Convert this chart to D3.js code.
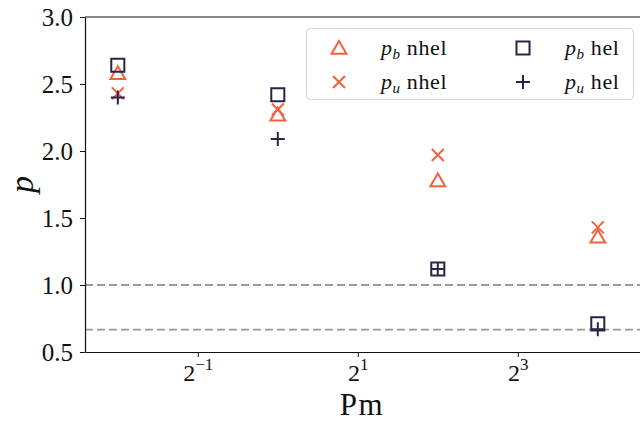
<!DOCTYPE html>
<html>
<head>
<meta charset="utf-8">
<script src="https://cdn.jsdelivr.net/npm/d3@7"></script>
<style>
  body { margin: 0; background: #fff; }
  svg text { font-family: "Liberation Serif", "DejaVu Serif", serif; fill: #111; }
</style>
</head>
<body>
<svg id="chart" width="640" height="422"></svg>
<script>
const svg = d3.select('#chart');

// data
const pm = [0.25, 1, 4, 16];
const pbNhel = [2.58, 2.27, 1.78, 1.36];
const puNhel = [2.43, 2.31, 1.97, 1.43];
const pbHel = [2.64, 2.42, 1.12, 0.71];
const puHel = [2.40, 2.09, 1.12, 0.67];
const refLines = [1.0, 2 / 3];
const yTicks = [0.5, 1.0, 1.5, 2.0, 2.5, 3.0];
const xTickExp = [-1, 1, 3];

const orange = '#f2613f';
const navy = '#2d2246';
const serif = '"Liberation Serif", "DejaVu Serif", serif';

const plotL = 85, plotT = 17, plotB = 352, plotR = 641;

const x = d3.scaleLog().base(2)
    .domain([Math.pow(2, -2.41), Math.pow(2, 4.54)])
    .range([plotL, plotR]);
const y = d3.scaleLinear().domain([0.5, 3.0]).range([plotB, plotT]);

// reference lines
svg.selectAll('.ref')
    .data(refLines)
    .enter()
    .append('line')
    .attr('x1', plotL).attr('x2', 640)
    .attr('y1', d => y(d)).attr('y2', d => y(d))
    .attr('stroke', '#9a9a9a')
    .attr('stroke-width', 1.8)
    .attr('stroke-dasharray', '8,4');

// axes
const yAxis = svg.append('g')
    .attr('transform', `translate(${plotL},0)`)
    .call(d3.axisLeft(y).tickValues(yTicks).tickFormat(d3.format('.1f')).tickSize(5).tickSizeOuter(0));
const xAxis = svg.append('g')
    .attr('transform', `translate(0,${plotB})`)
    .call(d3.axisBottom(x).tickValues(xTickExp.map(e => Math.pow(2, e))).tickFormat('').tickSize(5).tickSizeOuter(0));

[yAxis, xAxis].forEach(g => {
    g.attr('font-family', serif);
    g.select('.domain').attr('stroke', '#111').attr('stroke-width', 1.2);
    g.selectAll('.tick line').attr('stroke', '#111').attr('stroke-width', 1);
});
yAxis.selectAll('.tick text')
    .attr('font-size', 25)
    .attr('x', -12)
    .attr('dy', '0.33em')
    .attr('fill', '#111');

xAxis.selectAll('.tick').each(function(d) {
    const e = Math.round(Math.log2(d));
    const t = d3.select(this).append('text')
        .attr('y', 29)
        .attr('text-anchor', 'middle')
        .attr('font-size', 24)
        .attr('fill', '#111');
    t.append('tspan').text('2');
    t.append('tspan').attr('dy', -11).attr('font-size', 17)
        .text(e < 0 ? '\u2212' + Math.abs(e) : e);
});

// top spine
svg.append('line')
    .attr('x1', plotL).attr('x2', 640)
    .attr('y1', plotT).attr('y2', plotT)
    .attr('stroke', '#111').attr('stroke-width', 1.2);

// axis labels
svg.append('text')
    .attr('x', 362).attr('y', 415)
    .attr('text-anchor', 'middle')
    .attr('font-size', 31)
    .attr('letter-spacing', 1.5)
    .text('Pm');
svg.append('text')
    .attr('transform', `translate(33,${(plotT + plotB) / 2}) rotate(-90)`)
    .attr('text-anchor', 'middle')
    .attr('font-size', 34)
    .attr('font-style', 'italic')
    .text('p');

// marker shapes
const tri = d3.symbol().type(d3.symbolTriangle).size(95);
const sq = d3.symbol().type(d3.symbolSquare).size(170);

function plus(s) {
    const h = s / 2;
    return `M${-h},0L${h},0M0,${-h}L0,${h}`;
}
function cross(s) {
    const h = s / 2;
    return `M${-h},${-h}L${h},${h}M${-h},${h}L${h},${-h}`;
}

const series = [
    { vals: pbNhel, color: orange, path: tri(), dy: 1.5 },
    { vals: puNhel, color: orange, path: cross(12), dy: 0 },
    { vals: pbHel, color: navy, path: sq(), dy: 0 },
    { vals: puHel, color: navy, path: plus(14), dy: 0 }
];

series.forEach(s => {
    svg.append('g').selectAll('path')
        .data(pm.map((p, i) => [p, s.vals[i]]))
        .enter()
        .append('path')
        .attr('transform', d => `translate(${x(d[0])},${y(d[1]) + s.dy})`)
        .attr('d', s.path)
        .attr('fill', 'none')
        .attr('stroke', s.color)
        .attr('stroke-width', 2);
});

// legend
const legend = svg.append('g');
legend.append('rect')
    .attr('x', 306.5).attr('y', 28.5)
    .attr('width', 327).attr('height', 71)
    .attr('rx', 4)
    .attr('fill', 'rgba(255,255,255,0.8)')
    .attr('stroke', '#d5d5d5')
    .attr('stroke-width', 1);

const legendItems = [
    { s: series[0], sub: 'b', label: 'nhel', col: 0, row: 0 },
    { s: series[1], sub: 'u', label: 'nhel', col: 0, row: 1 },
    { s: series[2], sub: 'b', label: 'hel', col: 1, row: 0 },
    { s: series[3], sub: 'u', label: 'hel', col: 1, row: 1 }
];
legendItems.forEach(it => {
    const mx = 339 + it.col * 184;
    const my = 48 + it.row * 34;
    legend.append('path')
        .attr('transform', `translate(${mx},${my + it.s.dy})`)
        .attr('d', it.s.path)
        .attr('fill', 'none')
        .attr('stroke', it.s.color)
        .attr('stroke-width', 2);
    const t = legend.append('text')
        .attr('x', mx + 42).attr('y', my + 7)
        .attr('font-size', 22)
        .attr('letter-spacing', 0.6);
    t.append('tspan').attr('font-style', 'italic').text('p');
    t.append('tspan').attr('font-style', 'italic').attr('font-size', 15).attr('dy', 4).text(it.sub);
    t.append('tspan').attr('dy', -4).text(' ' + it.label);
});
</script>
</body>
</html>
